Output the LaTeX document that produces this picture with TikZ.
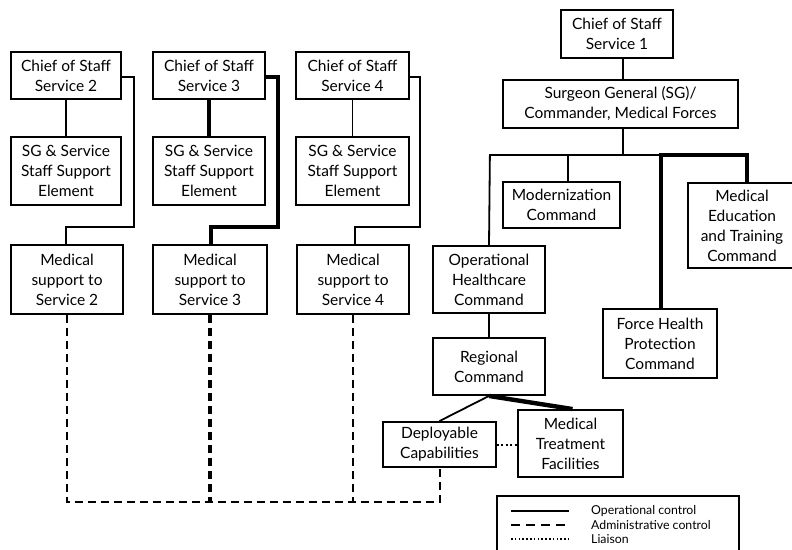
\documentclass[tikz,border=0pt]{standalone}
\usepackage{fontspec}
\setmainfont{Lato}
\begin{document}
\begin{tikzpicture}[x=1pt,y=-1pt,
  box/.style={draw, line width=1.9pt, align=center, inner sep=0pt,
    font=\fontsize{15.5}{20}\selectfont},
  conn/.style={line width=1.8pt},
  thickconn/.style={line width=4.4pt},
  medconn/.style={line width=2.8pt},
  adm/.style={line width=2pt, dash pattern=on 8pt off 5pt},
  admthick/.style={line width=4.2pt, dash pattern=on 8pt off 5pt},
  liaison/.style={line width=2pt, dash pattern=on 2pt off 2.4pt},
  legtext/.style={anchor=west, inner sep=0pt, font=\fontsize{12.3}{14}\selectfont}
]
\useasboundingbox (0,0) rectangle (792,549);
% left columns
\node[box, minimum width=110pt, minimum height=47pt] (cos2) at (66,75.5) {Chief of Staff\\Service 2};
\node[box, minimum width=110pt, minimum height=68pt] (sg2) at (66,171) {SG \& Service\\Staff Support\\Element};
\node[box, minimum width=112pt, minimum height=69pt] (ms2) at (67,279.5) {Medical\\support to\\Service 2};
\node[box, minimum width=112pt, minimum height=47pt] (cos3) at (209,75.5) {Chief of Staff\\Service 3};
\node[box, minimum width=112pt, minimum height=68pt] (sg3) at (209,171) {SG \& Service\\Staff Support\\Element};
\node[box, minimum width=114pt, minimum height=69pt] (ms3) at (210,279.5) {Medical\\support to\\Service 3};
\node[box, minimum width=113pt, minimum height=47pt] (cos4) at (352.5,75.5) {Chief of Staff\\Service 4};
\node[box, minimum width=113pt, minimum height=68pt] (sg4) at (352.5,171) {SG \& Service\\Staff Support\\Element};
\node[box, minimum width=112pt, minimum height=69pt] (ms4) at (353,279.5) {Medical\\support to\\Service 4};
% right side
\node[box, minimum width=112pt, minimum height=48pt] (cos1) at (617,34) {Chief of Staff\\Service 1};
\node[box, minimum width=235pt, minimum height=48pt] (sgm) at (620.5,104) {Surgeon General (SG)/\\Commander, Medical Forces};
\node[box, minimum width=117pt, minimum height=46pt] (mod) at (561.5,205) {Modernization\\Command};
\node[box, minimum width=108pt, minimum height=85pt] (med) at (742,225.5) {Medical\\Education\\and Training\\Command};
\node[box, minimum width=114pt, minimum height=69pt] (fhp) at (660,343.5) {Force Health\\Protection\\Command};
\node[box, minimum width=112pt, minimum height=67pt] (ohc) at (489,279.5) {Operational\\Healthcare\\Command};
\node[box, minimum width=112pt, minimum height=57pt] (reg) at (489,366.5) {Regional\\Command};
\node[box, minimum width=113pt, minimum height=45pt] (dep) at (439.5,444.5) {Deployable\\Capabilities};
\node[box, minimum width=105pt, minimum height=67pt] (mtf) at (570.5,443.5) {Medical\\Treatment\\Facilities};
% coordinates
\coordinate (busL) at (489,155);
\coordinate (busM) at (623,155);
\coordinate (busA) at (568,155);
\coordinate (busB) at (661,155);
\coordinate (busR) at (747,155);
\coordinate (botL) at (67,502);
\coordinate (bot3) at (210,502);
\coordinate (bot4) at (353,502);
\coordinate (botR) at (440,502);
% service 2
\draw[conn] (cos2) -- (sg2);
\draw[conn] (cos2.east |- 0,77) -- (134,77) -- (134,227) -- (66,227) -- (ms2.north -| 66,0);
% service 3
\draw[thickconn] (cos3) -- (sg3);
\draw[thickconn] (cos3.east |- 0,77) -- (278,77) -- (278,227) -- (211,227) -- (ms3.north -| 211,0);
% service 4
\draw[conn] (cos4) -- (sg4);
\draw[conn] (cos4.east |- 0,77) -- (420,77) -- (420,227) -- (355,227) -- (ms4.north -| 355,0);
% right tree
\draw[conn] (cos1.south -| busM) -- (sgm.north -| busM);
\draw[conn] (sgm.south -| busM) -- (busM);
\draw[conn] (busL) -- (busA);
\draw[medconn] (busA) -- (busB);
\draw[thickconn] ([xshift=-2.2pt]busB) -- ([xshift=2.2pt]busR);
\draw[conn] ([xshift=0.9pt]busL) -- (ohc.north);
\draw[medconn] (busA) -- (mod.north -| busA);
\draw[thickconn] (busB) -- (fhp.north -| busB);
\draw[thickconn] (busR) -- (med.north -| busR);
\draw[conn] (ohc) -- (reg);
\draw[conn] (reg.south) -- (dep.north);
\draw[thickconn] (reg.south) -- ([xshift=2pt]mtf.north);
\draw[liaison] (dep.east) -- (mtf.west |- dep.east);
% administrative control
\draw[adm] (ms2.south -| botL) -- (botL) -- (botR) -- (dep.south -| botR);
\draw[admthick] (ms3.south -| bot3) -- (bot3);
\draw[adm] (ms4.south -| bot4) -- (bot4);
% legend
\draw[line width=1.8pt] (497,496) rectangle (739,570);
\coordinate (l1a) at (511,511); \coordinate (l1b) at (569,511);
\coordinate (l2a) at (511,525); \coordinate (l2b) at (569,525);
\coordinate (l3a) at (511,539); \coordinate (l3b) at (569,539);
\draw[line width=2pt] (l1a) -- (l1b);
\draw[line width=2pt, dash pattern=on 9pt off 6pt] (l2a) -- (l2b);
\draw[line width=1.8pt, dash pattern=on 1.6pt off 2.2pt] (l3a) -- (l3b);
\node[legtext] (t1) at (591,511) {Operational control};
\node[legtext] (t2) at (591,525) {Administrative control};
\node[legtext] (t3) at (591,539) {Liaison};
\end{tikzpicture}
\end{document}
